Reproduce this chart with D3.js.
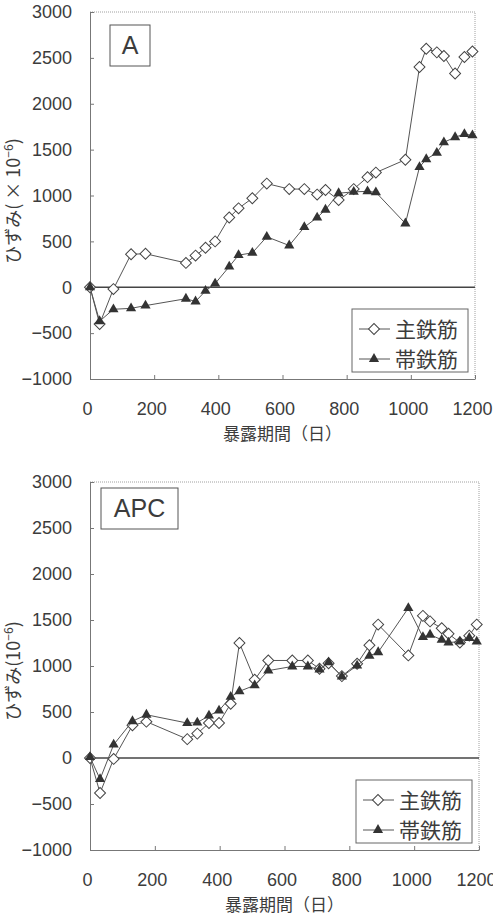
<!DOCTYPE html>
<html>
<head>
<meta charset="utf-8">
<script src="https://cdn.jsdelivr.net/npm/d3@7"></script>
<style>
body { margin: 0; background: #fff; }
svg { display: block; }
text { fill: #3c3c3c; }
</style>
</head>
<body>
<div id="main"></div>
<script>
var xTicks = [0, 200, 400, 600, 800, 1000, 1200];
var yTicks = [-1000, -500, 0, 500, 1000, 1500, 2000, 2500, 3000];
var seriesNames = ["主鉄筋", "帯鉄筋"];

// A
var daysA = [0, 30, 73, 128, 173, 299, 329, 360, 390, 434, 463, 506, 551, 621, 668, 708, 734, 775, 822, 865, 891, 983, 1027, 1048, 1081, 1103, 1138, 1167, 1192];
var mainA = [0, -400, -20, 360, 365, 265, 345, 430, 500, 760, 860, 970, 1130, 1070, 1070, 1010, 1060, 950, 1070, 1200, 1250, 1390, 2400, 2600, 2560, 2520, 2330, 2510, 2570];
var hoopA = [0, -370, -240, -230, -200, -125, -155, -40, 40, 225, 350, 375, 550, 455, 655, 760, 845, 1025, 1040, 1045, 1035, 695, 1310, 1395, 1465, 1580, 1635, 1670, 1655];

// APC
var daysAPC = [0, 31, 73, 131, 174, 300, 331, 367, 398, 434, 461, 508, 550, 624, 672, 708, 736, 777, 824, 862, 889, 982, 1027, 1049, 1085, 1106, 1141, 1170, 1193];
var mainAPC = [0, -380, -10, 355, 395, 205, 265, 380, 380, 590, 1250, 850, 1060, 1060, 1060, 970, 1030, 890, 1025, 1225, 1450, 1115, 1545, 1485, 1410, 1350, 1255, 1330, 1450];
var hoopAPC = [10, -230, 145, 400, 470, 380, 385, 460, 515, 665, 725, 790, 950, 995, 995, 960, 1040, 885, 1005, 1110, 1150, 1630, 1315, 1340, 1285, 1255, 1265, 1305, 1265];

var jpFont = '"Noto Sans CJK JP", sans-serif';
var numFont = '"Liberation Sans", Arial, sans-serif';

var svg = d3.select("#main")
	.append("svg")
	.attr("width", 493)
	.attr("height", 917);

function drawPanel(p) {
	var x = d3.scaleLinear().domain([0, 1200]).range([p.left, p.right]);
	var y = d3.scaleLinear().domain([-1000, 3000]).range([p.bottom, p.top]);
	var g = svg.append("g");

	// dotted frame on top and right
	g.append("path")
		.attr("d", "M" + p.left + "," + p.top + "H" + p.right + "V" + p.bottom)
		.attr("fill", "none")
		.attr("stroke", "#a0a0a0")
		.attr("stroke-dasharray", "1,1");

	var yAxis = g.append("g")
		.attr("transform", "translate(" + p.left + ",0)")
		.call(d3.axisLeft(y).tickValues(yTicks).tickSize(-4).tickSizeOuter(0).tickPadding(18).tickFormat(d3.format("d")));
	var xAxis = g.append("g")
		.attr("transform", "translate(0," + p.bottom + ")")
		.call(d3.axisBottom(x).tickValues(xTicks).tickSize(-4).tickSizeOuter(0).tickPadding(23).tickFormat(d3.format("d")));
	[yAxis, xAxis].forEach(function (a) {
		a.attr("font-family", numFont).attr("font-size", 18);
		a.select(".domain").attr("stroke", "#777");
		a.selectAll(".tick line").attr("stroke", "#777");
		a.selectAll(".tick text").attr("fill", "#3c3c3c");
	});
	// labels sit a little left of their ticks
	xAxis.selectAll(".tick text").attr("dx", -3);

	// zero line
	g.append("line")
		.attr("x1", p.left).attr("x2", p.right)
		.attr("y1", y(0)).attr("y2", y(0))
		.attr("stroke", "#444")
		.attr("stroke-width", 1.5);

	var line = d3.line()
		.x(function (d, i) { return x(p.days[i]); })
		.y(function (d) { return y(d); });

	g.append("path").datum(p.main).attr("d", line)
		.attr("fill", "none").attr("stroke", "#555").attr("stroke-width", 1);
	g.selectAll(".dia").data(p.main).enter().append("path")
		.attr("d", d3.symbol(d3.symbolSquare, 60))
		.attr("transform", function (d, i) { return "translate(" + x(p.days[i]) + "," + y(d) + ") rotate(45)"; })
		.attr("fill", "#fff").attr("stroke", "#444");

	g.append("path").datum(p.hoop).attr("d", line)
		.attr("fill", "none").attr("stroke", "#555").attr("stroke-width", 1);
	g.selectAll(".tri").data(p.hoop).enter().append("path")
		.attr("d", d3.symbol(d3.symbolTriangle, 45))
		.attr("transform", function (d, i) { return "translate(" + x(p.days[i]) + "," + y(d) + ")"; })
		.attr("fill", "#333");

	// panel label box
	g.append("rect")
		.attr("x", p.left + p.boxDx).attr("y", p.top + p.boxDy)
		.attr("width", p.boxW).attr("height", 41)
		.attr("fill", "#fff").attr("stroke", "#555");
	g.append("text")
		.attr("x", p.left + p.boxDx + p.boxW / 2).attr("y", p.top + p.boxDy + 29)
		.attr("text-anchor", "middle")
		.attr("font-family", numFont).attr("font-size", 25)
		.text(p.label);

	// legend
	var lx = p.right - 123, ly = p.bottom - 70;
	g.append("rect")
		.attr("x", lx).attr("y", ly).attr("width", 116).attr("height", 63)
		.attr("fill", "#fff").attr("stroke", "#666");
	seriesNames.forEach(function (name, i) {
		var cy = ly + 20 + i * 30;
		g.append("line")
			.attr("x1", lx + 7).attr("x2", lx + 38)
			.attr("y1", cy).attr("y2", cy)
			.attr("stroke", "#555");
		g.append("path")
			.attr("d", d3.symbol(i === 0 ? d3.symbolSquare : d3.symbolTriangle, i === 0 ? 60 : 45))
			.attr("transform", "translate(" + (lx + 22) + "," + cy + ")" + (i === 0 ? " rotate(45)" : ""))
			.attr("fill", i === 0 ? "#fff" : "#333")
			.attr("stroke", i === 0 ? "#444" : "none");
		g.append("text")
			.attr("x", lx + 43).attr("y", cy)
			.attr("dy", "0.36em")
			.attr("font-family", jpFont).attr("font-size", 21)
			.text(name);
	});

	// axis titles
	g.append("text")
		.attr("x", (p.left + p.right) / 2).attr("y", p.bottom + 61)
		.attr("text-anchor", "middle")
		.attr("font-family", jpFont).attr("font-size", 17)
		.text("暴露期間（日）");

	var yt = g.append("text")
		.attr("transform", "translate(20," + p.yTitleY + ") rotate(-90)")
		.attr("text-anchor", "middle")
		.attr("font-family", jpFont).attr("font-size", 18);
	yt.append("tspan").text(p.yTitle);
	yt.append("tspan").attr("font-size", 12).attr("dy", -7).text("−6");
	yt.append("tspan").attr("dy", 7).text(")");
}

drawPanel({ label: "A", days: daysA, main: mainA, hoop: hoopA, yTitle: "ひずみ( × 10",
	left: 90, right: 475, top: 12, bottom: 379, boxDx: 20, boxDy: 13, boxW: 40, yTitleY: 201 });
drawPanel({ label: "APC", days: daysAPC, main: mainAPC, hoop: hoopAPC, yTitle: "ひずみ(10",
	left: 90, right: 479, top: 482, bottom: 850, boxDx: 11, boxDy: 6, boxW: 77, yTitleY: 671 });
</script>
</body>
</html>
